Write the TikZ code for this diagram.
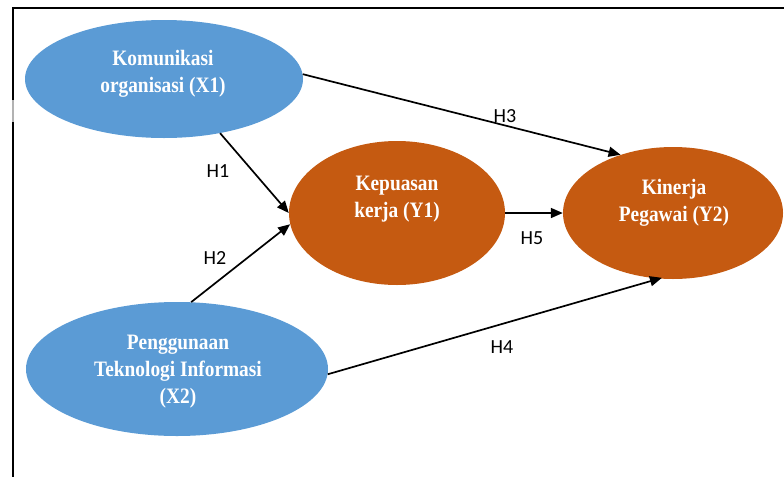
\documentclass[tikz,border=0pt]{standalone}
\usepackage{fontspec}
\setmainfont{Liberation Serif}
\newfontfamily\labfont{Carlito}
\newfontfamily\boxfont[FakeStretch=0.88]{Liberation Serif Bold}
\usetikzlibrary{shapes.geometric,arrows.meta}
\definecolor{xblue}{HTML}{5B9BD5}
\definecolor{yorange}{HTML}{C55A11}
\tikzset{
  var/.style={ellipse,inner sep=0pt,draw=none},
  xvar/.style={var,fill=xblue},
  yvar/.style={var,fill=yorange},
  vtext/.style={text=white,align=center,font=\boxfont\fontsize{22}{27}\selectfont,inner sep=0pt},
  hyp/.style={font=\labfont\fontsize{20}{24}\selectfont,inner sep=0pt},
  path/.style={line width=1.7pt,-{Triangle[length=12pt,width=10pt]}},
}
\begin{document}
\begin{tikzpicture}[x=1pt,y=-1pt]
\useasboundingbox (0,0) rectangle (784,477);
% frame
\draw[line width=2pt] (12,8) -- (784,8);
\draw[line width=2pt] (13,8) -- (13,100);
\draw[line width=2pt,black!30] (13,100) -- (13,122);
\draw[line width=2pt] (13,122) -- (13,477);
% ellipses
\node[xvar,minimum width=278pt,minimum height=118pt] (x1) at (164,79) {};
\node[xvar,minimum width=302pt,minimum height=134pt] (x2) at (177,369) {};
\node[yvar,minimum width=216pt,minimum height=144pt] (y1) at (397,213) {};
\node[yvar,minimum width=220pt,minimum height=132pt] (y2) at (673,213) {};
% texts
\node[vtext] (x1t) at (163,74) {Komunikasi\\organisasi (X1)};
\node[vtext] (x2t) at (178,372) {Penggunaan\\Teknologi Informasi\\(X2)};
\node[vtext] (y1t) at (397,199) {Kepuasan\\kerja (Y1)};
\node[vtext] (y2t) at (674,203) {Kinerja\\Pegawai (Y2)};
% paths
\draw[path] (x1.2) -- (y2.132);
\draw[path] (x1.-44) -- (y1.180);
\draw[path] (x2.78) -- (y1.186);
\draw[path] (y1.0) -- (y2.180);
\draw[path,shorten >=-3pt] (x2.-2) -- (y2.-102);
% labels
\node[hyp] (h1) at (218,171) {H1};
\node[hyp] (h2) at (215,258) {H2};
\node[hyp] (h3) at (505,116) {H3};
\node[hyp] (h4) at (502,347) {H4};
\node[hyp] (h5) at (532,238) {H5};
\end{tikzpicture}
\end{document}
